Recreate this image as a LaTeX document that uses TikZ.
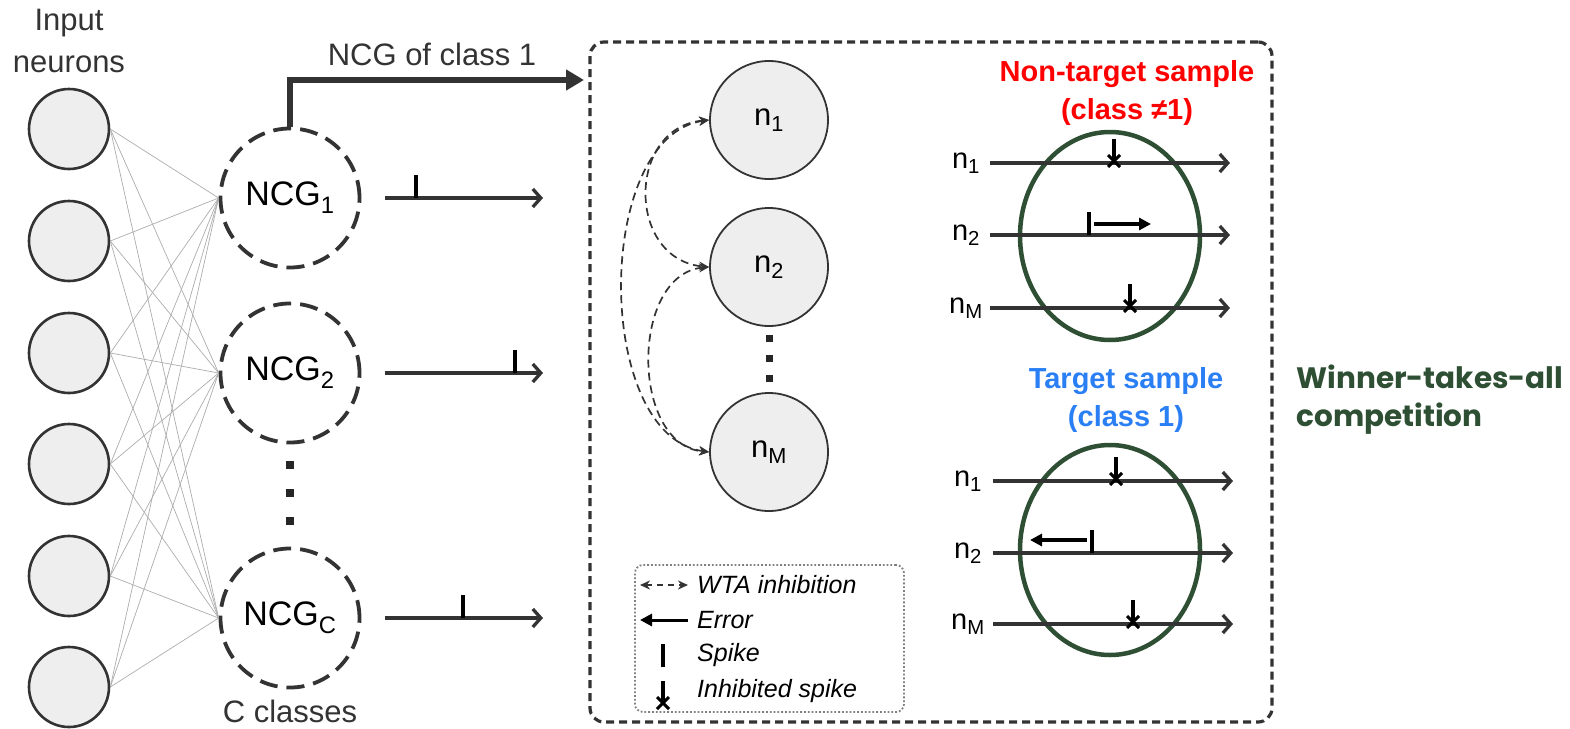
\documentclass[tikz,border=0pt]{standalone}
\usepackage{fontspec}
\setmainfont{Liberation Sans}
\newfontfamily\wtafont{Poppins}
\usetikzlibrary{arrows.meta,shapes.geometric}

\definecolor{ink}{HTML}{333333}
\definecolor{cellfill}{HTML}{EEEEEE}
\definecolor{wtagreen}{HTML}{2E4F34}
\definecolor{nontarget}{HTML}{FF0000}
\definecolor{target}{HTML}{2B7FF5}

\tikzset{
  inneuron/.style={circle, draw=ink, fill=cellfill, line width=2.6pt, minimum size=80pt, inner sep=0pt},
  ncg/.style={circle, draw=ink, line width=3.8pt, dash pattern=on 18pt off 9pt, minimum size=139pt, inner sep=0pt,
    font=\fontsize{34}{38}\selectfont},
  wneuron/.style={circle, draw=ink, fill=cellfill, line width=1.8pt, minimum size=118pt, inner sep=0pt,
    font=\fontsize{31}{34}\selectfont},
  synapse/.style={draw=gray!65, line width=0.7pt},
  train/.style={draw=ink, line width=3.3pt, -{Straight Barb[length=8pt,width=18pt,line width=3.3pt]}},
  wta/.style={draw=ink, line width=1.7pt, dash pattern=on 8pt off 5pt,
    {Stealth[length=10pt,width=9pt]}-{Stealth[length=10pt,width=9pt]}},
  errarrow/.style={draw=black, line width=3.8pt, -{Triangle[length=12pt,width=12pt]}},
  bigarrow/.style={draw=ink, line width=5.5pt, -{Triangle[length=18pt,width=20pt]}},
  dotsq/.style={fill=black!85, minimum size=8pt, inner sep=0pt},
  lbl/.style={font=\fontsize{31}{42}\selectfont, text=ink, align=center},
  trainlbl/.style={font=\fontsize{29}{32}\selectfont, text=black},
  legtxt/.style={font=\fontsize{25}{28}\selectfont\itshape, anchor=west, inner sep=0pt},
  head/.style={font=\fontsize{29}{38}\selectfont\bfseries, align=center},
}

\begin{document}
\begin{tikzpicture}[x=1pt, y=-1pt]
  \useasboundingbox (0,0) rectangle (1570,728);
  % spike marks (y grows downwards here)
  \tikzset{spikebar/.pic={\draw[line width=3.6pt, black] (0,0) -- (0,-23);},
    inhibited/.pic={
      \draw[line width=3.2pt, black] (0,-24) -- (0,-2);
      \draw[line width=3pt, black] (-6,-8) -- (6,4) (6,-8) -- (-6,4);
    }}

  % ---------------- input layer ----------------
  \node[lbl] (inlbl) at (69,41) {Input\\neurons};
  \foreach \i/\y in {1/129, 2/241, 3/353, 4/464, 5/576, 6/687}
    \node[inneuron] (in\i) at (69,\y) {};

  % ---------------- class groups ----------------
  \node[ncg] (g1) at (290,198) {NCG\textsubscript{1}};
  \node[ncg] (g2) at (290,373) {NCG\textsubscript{2}};
  \node[ncg] (gc) at (290,618) {NCG\textsubscript{C}};
  \node[lbl] (clbl) at (290,711) {C classes};
  \foreach \y in {465,493,521}
    \node[dotsq] at (290,\y) {};

  % all-to-all input connections
  \foreach \i in {1,...,6}
    \foreach \g in {g1,g2,gc}
      \draw[synapse] (in\i.east) -- (\g.west);

  % output spike trains of the groups
  \coordinate (o1a) at (385,198); \coordinate (o1b) at (543,198);
  \coordinate (o2a) at (385,373); \coordinate (o2b) at (543,373);
  \coordinate (oca) at (385,618); \coordinate (ocb) at (543,618);
  \draw[train] (o1a) -- (o1b);
  \draw[train] (o2a) -- (o2b);
  \draw[train] (oca) -- (ocb);
  \pic at (416,198) {spikebar};
  \pic at (515,373) {spikebar};
  \pic at (463,618) {spikebar};

  % ---------------- zoom on the group of class 1 ----------------
  \node[draw=ink, line width=3.2pt, dash pattern=on 8pt off 5pt, rounded corners=14pt,
        minimum width=682pt, minimum height=680pt, inner sep=0pt] (box) at (931,382) {};
  \coordinate (boxin) at (584,80);
  \draw[bigarrow] (g1.north) |- (boxin);
  \node[lbl] (cls1) at (432,54) {NCG of class 1};

  \node[wneuron] (n1) at (769,120) {n\textsubscript{1}};
  \node[wneuron] (n2) at (769,267) {n\textsubscript{2}};
  \node[wneuron] (nM) at (769,452) {n\textsubscript{M}};
  \foreach \y in {338,358,378}
    \node[dotsq, minimum size=7pt] at (769,\y) {};

  % lateral winner-takes-all inhibition
  \draw[wta] (n1.west) to[out=185,in=175,looseness=1.45] (n2.west);
  \draw[wta] (n2.west) to[out=185,in=175,looseness=1.1] (nM.west);
  \draw[wta] (n1.west) to[out=188,in=172,looseness=0.9] (nM.west);

  % legend
  \node[draw=gray, line width=1.8pt, dotted, rounded corners=8pt,
        minimum width=269pt, minimum height=147pt, inner sep=0pt] (legend) at (769.5,638.5) {};
  \coordinate (lw1) at (640,585); \coordinate (lw2) at (688,585);
  \draw[wta, dash pattern=on 6pt off 5pt] (lw1) -- (lw2);
  \node[legtxt] (lt1) at (697,585) {WTA inhibition};
  \coordinate (le1) at (688,620); \coordinate (le2) at (640,620);
  \draw[errarrow, line width=3pt] (le1) -- (le2);
  \node[legtxt] (lt2) at (697,620) {Error};
  \pic at (663,667) {spikebar};
  \node[legtxt] (lt3) at (697,655) {Spike};
  \pic at (663,705) {inhibited};
  \node[legtxt] (lt4) at (697,691) {Inhibited spike};

  % ---------------- non-target sample ----------------
  \node[head, text=nontarget] (ntlbl) at (1127,93) {Non-target sample\\(class ≠1)};
  \node[draw=wtagreen, line width=4.5pt, ellipse, minimum width=180pt, minimum height=208pt] (e1) at (1110,236) {};
  \foreach \nm/\sub/\y in {a1/1/163, a2/2/235, aM/M/308} {
    \node[trainlbl] (l\nm) at (966,\y) {n\textsubscript{\sub}};
    \coordinate (s\nm) at (990,\y);
    \coordinate (t\nm) at (1230,\y);
    \draw[train] (s\nm) -- (t\nm);
  }
  \pic at (1114,163) {inhibited};
  \pic at (1089,235) {spikebar};
  \coordinate (ea1) at (1094,224); \coordinate (ea2) at (1151,224);
  \draw[errarrow] (ea1) -- (ea2);
  \pic at (1130,308) {inhibited};

  % ---------------- target sample ----------------
  \node[head, text=target] (tlbl) at (1126,400) {Target sample\\(class 1)};
  \node[draw=wtagreen, line width=4.5pt, ellipse, minimum width=180pt, minimum height=210pt] (e2) at (1110,550) {};
  \foreach \nm/\sub/\y in {b1/1/481, b2/2/553, bM/M/624} {
    \node[trainlbl] (l\nm) at (968,\y) {n\textsubscript{\sub}};
    \coordinate (s\nm) at (993,\y);
    \coordinate (t\nm) at (1233,\y);
    \draw[train] (s\nm) -- (t\nm);
  }
  \pic at (1116,481) {inhibited};
  \pic at (1092,553) {spikebar};
  \coordinate (eb1) at (1087,540); \coordinate (eb2) at (1030,540);
  \draw[errarrow] (eb1) -- (eb2);
  \pic at (1133,624) {inhibited};

  % ---------------- caption ----------------
  \node[font=\wtafont\bfseries\fontsize{29.5}{38}\selectfont, text=wtagreen, align=left, anchor=west]
    (wtalbl) at (1293,400) {Winner-takes-all\\competition};
\end{tikzpicture}
\end{document}
